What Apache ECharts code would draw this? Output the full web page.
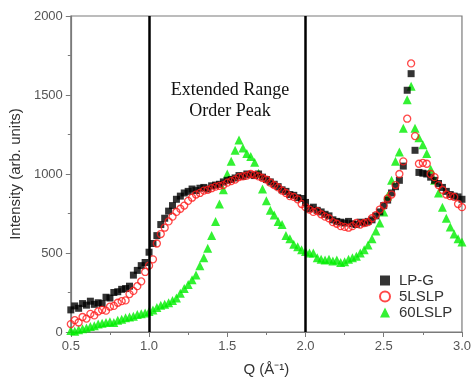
<!DOCTYPE html>
<html>
<head>
<meta charset="utf-8">
<script src="https://cdn.jsdelivr.net/npm/echarts@6/dist/echarts.min.js"></script>
<style>html,body{margin:0;padding:0;background:#fff}#c{width:474px;height:383px}</style>
</head>
<body>
<div id="c"></div>
<script>
var Q = [0.500,0.525,0.550,0.575,0.600,0.625,0.650,0.675,0.700,0.725,0.750,0.775,0.800,0.825,0.850,0.875,0.900,0.925,0.950,0.975,
1.000,1.025,1.050,1.075,1.100,1.125,1.150,1.175,1.200,1.225,1.250,1.275,1.300,1.325,1.350,1.375,1.400,1.425,1.450,1.475,
1.500,1.525,1.550,1.575,1.600,1.625,1.650,1.675,1.700,1.725,1.750,1.775,1.800,1.825,1.850,1.875,1.900,1.925,1.950,1.975,
2.000,2.025,2.050,2.075,2.100,2.125,2.150,2.175,2.200,2.225,2.250,2.275,2.300,2.325,2.350,2.375,2.400,2.425,2.450,2.475,
2.500,2.525,2.550,2.575,2.600,2.625,2.650,2.675,2.700,2.725,2.750,2.775,2.800,2.825,2.850,2.875,2.900,2.925,2.950,2.975,3.000];

var LPG = [140,165,150,180,170,195,175,185,180,220,215,250,255,270,275,290,360,390,420,440,
505,560,610,680,720,765,800,840,860,880,890,905,895,910,915,905,925,930,935,950,
960,965,975,990,985,1000,995,990,1000,980,965,950,935,920,900,890,870,865,850,845,
820,780,790,770,760,745,735,710,700,695,690,700,685,680,695,690,700,710,735,760,
800,835,880,920,960,1050,1530,1635,1150,1010,1005,1000,980,960,940,915,890,870,860,855,840];

var LSLP5 = [50,75,60,95,85,115,105,130,140,135,160,165,185,195,200,240,260,290,320,380,
420,460,560,620,660,700,730,760,780,800,830,850,870,880,895,900,910,920,925,930,
945,955,965,980,985,990,1000,995,985,975,965,945,930,915,895,880,860,855,840,810,
790,775,760,765,745,730,720,695,685,670,665,660,670,690,680,690,695,720,740,775,
800,845,870,930,1000,1080,1350,1700,1240,1065,1070,1065,1000,980,930,900,870,860,855,810,790];

var LSLP60 = [10,5,15,20,25,35,40,50,55,60,65,60,75,80,90,95,100,110,115,120,
130,140,155,170,175,185,200,215,245,275,300,330,360,420,470,530,610,700,810,900,
1000,1080,1150,1215,1165,1130,1110,1075,1005,905,830,770,740,700,680,610,590,555,540,520,
510,500,500,470,460,455,460,450,455,440,445,460,470,480,500,520,550,590,640,690,
760,860,960,1080,1140,1290,1470,1555,1290,1230,1185,1130,1030,960,880,790,720,665,620,590,570];

var xTicks = ['0.5','1.0','1.5','2.0','2.5','3.0'];
var yTicks = ['0','500','1000','1500','2000'];
var markers = [1.0, 2.0];
var seriesNames = ['LP-G','5LSLP','60LSLP'];
var annotation = ['Extended Range','Order Peak'];

function pairs(ys){ return Q.map(function(q,i){return [q, ys[i]];}); }

var chart = echarts.init(document.getElementById('c'));
var axisGray = '#7a7a7a';
chart.setOption({
  animation:false,
  backgroundColor:'#fff',
  grid:{left:69,right:11,top:16,bottom:51,show:true,borderColor:axisGray,borderWidth:1.2},
  legend:{
    orient:'vertical', left:374, top:268, itemGap:1, itemWidth:10, itemHeight:10,
    textStyle:{fontFamily:'Liberation Sans, Arial', fontSize:15, color:'#333', padding:[0,0,0,4]},
    data:seriesNames
  },
  xAxis:{
    type:'value', min:0.5, max:3.0, interval:0.5,
    name:'Q (Å⁻¹)', nameLocation:'middle', nameGap:30,
    nameTextStyle:{fontFamily:'Liberation Sans, Arial', fontSize:15, color:'#333'},
    axisLine:{show:true,lineStyle:{color:axisGray,width:1.2}},
    axisTick:{show:true,inside:false,length:5,lineStyle:{color:axisGray}},
    minorTick:{show:true,splitNumber:2,length:3,lineStyle:{color:axisGray}},
    splitLine:{show:false},
    axisLabel:{fontFamily:'Liberation Sans, Arial',fontSize:13,color:'#555',margin:8,
      formatter:function(v){var s=v.toFixed(1); return xTicks.indexOf(s)>=0?s:'';}}
  },
  yAxis:{
    type:'value', min:0, max:2000, interval:500,
    name:'Intensity (arb. units)', nameLocation:'middle', nameGap:46, nameRotate:90,
    nameTextStyle:{fontFamily:'Liberation Sans, Arial', fontSize:15, color:'#333'},
    axisLine:{show:true,lineStyle:{color:axisGray,width:1.2}},
    axisTick:{show:true,inside:false,length:5,lineStyle:{color:axisGray}},
    minorTick:{show:true,splitNumber:2,length:3,lineStyle:{color:axisGray}},
    splitLine:{show:false},
    axisLabel:{fontFamily:'Liberation Sans, Arial',fontSize:13,color:'#555',margin:8,
      formatter:function(v){var s=String(v); return yTicks.indexOf(s)>=0?s:'';}}
  },
  series:[
    {name:seriesNames[0], type:'scatter', symbol:'rect', symbolSize:7, data:pairs(LPG),
     itemStyle:{color:'#000'}, z:3,
     markLine:{silent:true, symbol:'none', label:{show:false},
       lineStyle:{color:'#000',width:2.5,type:'solid'},
       data:markers.map(function(m){return {xAxis:m};})}},
    {name:seriesNames[1], type:'scatter', symbol:'circle', symbolSize:7, data:pairs(LSLP5),
     itemStyle:{color:'rgba(255,255,255,0)', borderColor:'#ff1a1a', borderWidth:1.3}, z:4},
    {name:seriesNames[2], type:'scatter', symbol:'triangle', symbolSize:9, data:pairs(LSLP60),
     itemStyle:{color:'#00ee00'}, z:2}
  ],
  graphic:[
    {type:'text', style:{text:annotation.join('\n'), x:230, y:80, textAlign:'center',
      font:'18px "Liberation Serif", "Times New Roman", serif', fill:'#111', lineHeight:21}}
  ]
});
</script>
</body>
</html>
